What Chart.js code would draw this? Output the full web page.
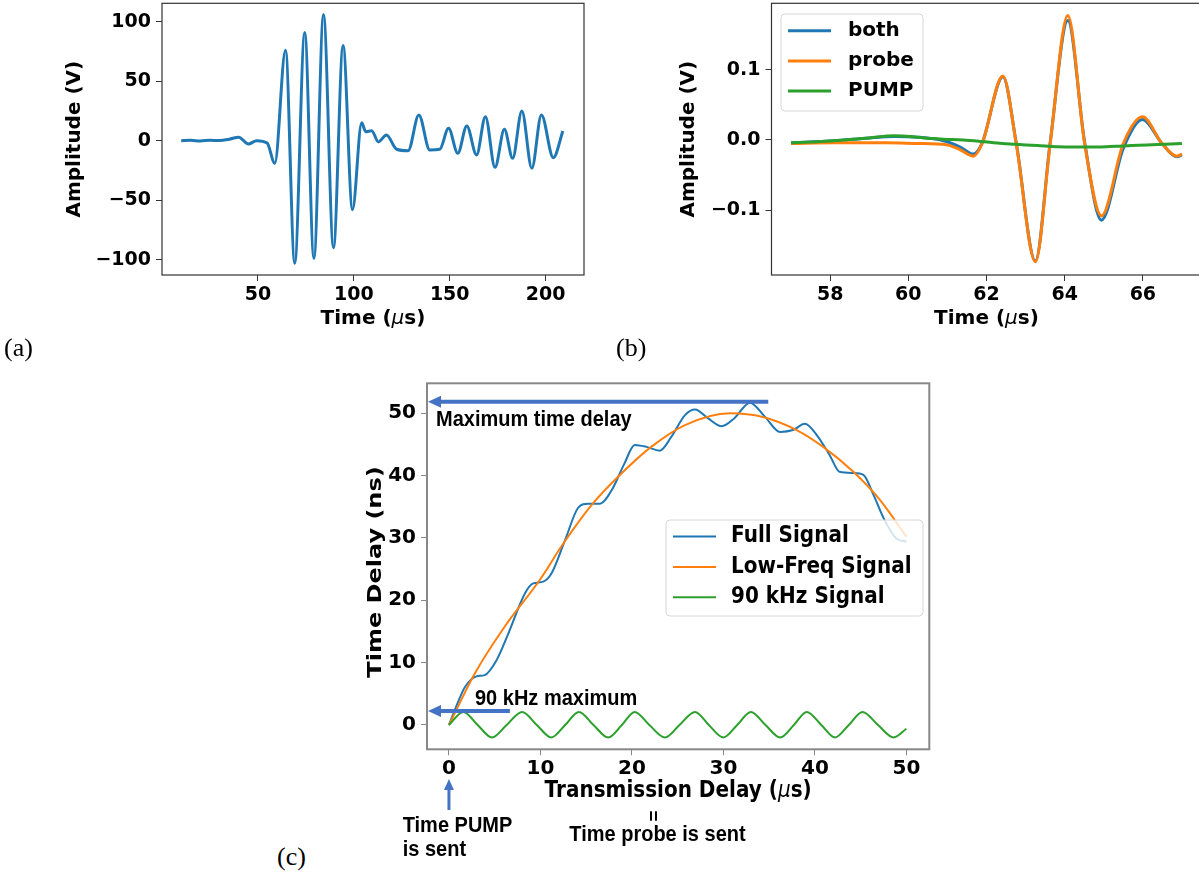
<!DOCTYPE html>
<html>
<head>
<meta charset="utf-8">
<script src="https://cdn.jsdelivr.net/npm/chart.js@4.4.1/dist/chart.umd.min.js"></script>
<style>
  body { margin: 0; background: #fff; width: 1199px; height: 877px; position: relative; overflow: hidden; }
  canvas { position: absolute; }
  .tag { position: absolute; font-family: 'Liberation Serif', serif; font-size: 26px; line-height: 26px; color: #000; }
</style>
</head>
<body>
<canvas id="chartA" width="600" height="335" style="left:0;top:0"></canvas>
<canvas id="chartB" width="605" height="335" style="left:600px;top:0"></canvas>
<canvas id="chartC" width="610" height="502" style="left:330px;top:375px"></canvas>
<div class="tag" style="left:4px;top:335px">(a)</div>
<div class="tag" style="left:616px;top:335px">(b)</div>
<div class="tag" style="left:277px;top:844px">(c)</div>
<script>
// (a) full received signal
const a_time = [10, 15, 20, 25, 30, 35, 40, 45, 49.3, 54.8, 58.8, 64.4, 69.2, 74.4, 79.2, 84.2, 89.4, 94.4, 99.3, 104.1, 106.2, 109.3, 112.8, 117, 122.3, 128.3, 133.9, 139.6, 144.8, 149.4, 154.2, 158.9, 164, 168.6, 173.6, 178.5, 182.8, 187.6, 192.8, 197.8, 204, 209];
const a_amp = [0, 0.3, -0.2, 0.4, 0.1, 1.2, 3, -2.8, 0, -2, -19, 76, -103, 91, -99, 106, -90, 80, -58, 15, 7.6, 8.4, -1, 4.8, -7.2, -8.4, 21.6, -7.8, -7.2, 10.4, -10.6, 12.4, -12, 20.2, -22.4, 9.6, -14.8, 25, -23.2, 21.6, -14.3, 8.2];
const a_xticks = [50, 100, 150, 200];
const a_yticks = [-100, -50, 0, 50, 100];

// (b) zoom on one pulse
const b_both_time = [57, 58.1, 59.0, 59.64, 60.23, 60.9, 61.33, 61.66, 61.89, 62.42, 62.76, 63.25, 63.63, 64.08, 64.51, 64.94, 65.5, 65.99, 66.49, 66.87, 67];
const b_both = [-0.004, -0.001, 0.003, 0.005, 0.004, -0.001, -0.010, -0.020, -0.004, 0.090, -0.004, -0.172, -0.003, 0.170, -0.003, -0.114, -0.012, 0.029, -0.005, -0.024, -0.021];
const b_probe_time = [57, 58.1, 59.4, 60.23, 61.0, 61.33, 61.66, 61.89, 62.42, 62.76, 63.25, 63.63, 64.08, 64.51, 64.94, 65.5, 65.99, 66.49, 66.87, 67];
const b_probe = [-0.005, -0.004, -0.004, -0.005, -0.007, -0.014, -0.023, -0.005, 0.091, -0.005, -0.173, -0.005, 0.177, -0.005, -0.108, -0.005, 0.033, -0.005, -0.023, -0.020];
const b_pump_time = [57, 57.5, 58.1, 58.6, 59.0, 59.64, 60.23, 60.61, 60.9, 61.4, 61.85, 62.4, 62.74, 63.3, 64.02, 64.87, 65.3, 65.72, 66.1, 66.57, 67];
const b_pump = [-0.004, -0.003, -0.001, 0.001, 0.003, 0.006, 0.004, 0.002, 0.001, 0.000, -0.002, -0.005, -0.006, -0.008, -0.010, -0.010, -0.009, -0.008, -0.007, -0.006, -0.005];
const b_xticks = [58, 60, 62, 64, 66];
const b_yticks = [-0.1, 0.0, 0.1];

// (c) time delay vs transmission delay
const c_full_time = [0, 1.0, 1.75, 3.0, 3.9, 5.2, 6.5, 8.3, 9.2, 10.3, 11.2, 12.7, 14.1, 15.2, 16.5, 17.8, 19.2, 20.3, 21.6, 23.05, 24.3, 25.8, 26.9, 28.3, 29.8, 31.2, 32.9, 34.5, 36.2, 37.6, 38.9, 40.2, 41.6, 42.7, 44.2, 45.3, 46.4, 47.6, 48.9, 50];
const c_full = [0, 3.7, 6.1, 7.8, 8.0, 10.4, 14.7, 21.1, 22.7, 23.0, 24.3, 29.7, 34.8, 35.5, 35.5, 37.7, 42.0, 44.9, 44.6, 44.0, 46.2, 49.7, 50.6, 49.2, 47.9, 49.2, 51.7, 49.5, 47.0, 47.3, 48.3, 46.5, 43.3, 40.6, 40.4, 40.1, 36.9, 32.9, 29.9, 29.4];
const c_low_time = [0, 2.84, 6.1, 9.94, 12.5, 15.6, 18.9, 22.1, 25.8, 30.7, 34.3, 38, 40.9, 44.2, 47.1, 50];
const c_low = [0, 8.3, 15.8, 23.3, 29.1, 35.3, 40.4, 44.6, 48.1, 50, 49.4, 47.3, 44.6, 40.6, 36.1, 30.2];
const c_hf_time = [0, 1.57, 3.14, 4.7, 6.3, 8.0, 9.6, 11.2, 12.7, 14.2, 15.8, 17.4, 18.9, 20.3, 21.9, 23.6, 25.2, 26.9, 28.4, 30.0, 31.5, 33.0, 34.6, 36.2, 37.7, 39.1, 40.7, 42.2, 43.7, 45.2, 46.9, 48.6, 50];
const c_hf = [0, 2.1, 0, -2.0, 0, 2.1, 0, -2.0, 0, 2.1, 0, -2.0, 0, 2.1, 0, -2.0, 0, 2.1, 0, -2.0, 0, 2.1, 0, -2.0, 0, 2.1, 0, -2.0, 0, 2.1, 0, -2.0, -0.6];
const c_xticks = [0, 10, 20, 30, 40, 50];
const c_yticks = [0, 10, 20, 30, 40, 50];

const BLUE = '#1f77b4', ORANGE = '#ff7f0e', GREEN = '#2ca02c';
const ARROW = '#4472c4';

function pts(xs, ys) { return xs.map((x, i) => ({ x: x, y: ys[i] })); }
function minus(s) { return String(s).replace('-', '\u2212'); }

function line(label, xs, ys, color, width, order) {
  return {
    label: label, data: pts(xs, ys), borderColor: color, borderWidth: width,
    pointRadius: 0, fill: false, cubicInterpolationMode: 'monotone', order: order
  };
}

// matplotlib style frame on all four sides
const spines = {
  id: 'spines',
  afterDraw(chart, args, o) {
    const { ctx, chartArea: a } = chart;
    ctx.save();
    ctx.strokeStyle = o.color;
    ctx.lineWidth = o.width;
    ctx.strokeRect(a.left, a.top, a.right - a.left, a.bottom - a.top);
    ctx.restore();
  }
};

// legend box inside the axes
const boxLegend = {
  id: 'boxLegend',
  afterDatasetsDraw(chart, args, o) {
    const ctx = chart.ctx;
    ctx.save();
    ctx.beginPath();
    ctx.roundRect(o.x, o.y, o.w, o.h, 4);
    ctx.fillStyle = 'rgba(255,255,255,0.8)';
    ctx.fill();
    ctx.strokeStyle = '#d6d6d6';
    ctx.lineWidth = 1;
    ctx.stroke();
    chart.data.datasets.forEach((ds, i) => {
      const yy = o.y + o.row0 + i * o.gap;
      ctx.strokeStyle = ds.borderColor;
      ctx.lineWidth = ds.borderWidth;
      ctx.beginPath();
      ctx.moveTo(o.x + o.l0, yy);
      ctx.lineTo(o.x + o.l1, yy);
      ctx.stroke();
      ctx.save();
      ctx.translate(o.x + o.tx, yy);
      ctx.scale(1, o.sy);
      ctx.font = o.font;
      ctx.fillStyle = '#000';
      ctx.textBaseline = 'middle';
      ctx.fillText(ds.label, 0, 0);
      ctx.restore();
    });
    ctx.restore();
  }
};

// x title with an italic mu
const muTitle = {
  id: 'muTitle',
  afterDraw(chart, args, o) {
    const { ctx, chartArea: a } = chart;
    ctx.save();
    let w = 0;
    o.parts.forEach(p => { ctx.font = p[1]; w += ctx.measureText(p[0]).width; });
    ctx.translate((a.left + a.right) / 2, o.y);
    ctx.scale(1, o.sy);
    ctx.fillStyle = '#000';
    ctx.textBaseline = 'middle';
    let x = -w / 2;
    o.parts.forEach(p => {
      ctx.font = p[1];
      ctx.fillText(p[0], x, 0);
      x += ctx.measureText(p[0]).width;
    });
    ctx.restore();
  }
};

function arrow(ctx, x0, y0, x1, y1, lw, head, half) {
  const ang = Math.atan2(y1 - y0, x1 - x0);
  const c = Math.cos(ang), s = Math.sin(ang);
  ctx.strokeStyle = ARROW;
  ctx.fillStyle = ARROW;
  ctx.lineWidth = lw;
  ctx.beginPath();
  ctx.moveTo(x0, y0);
  ctx.lineTo(x1 - c * head, y1 - s * head);
  ctx.stroke();
  ctx.beginPath();
  ctx.moveTo(x1, y1);
  ctx.lineTo(x1 - c * head - s * half, y1 - s * head + c * half);
  ctx.lineTo(x1 - c * head + s * half, y1 - s * head - c * half);
  ctx.closePath();
  ctx.fill();
}

function text(ctx, str, x, y, font, sy, align) {
  ctx.save();
  ctx.translate(x, y);
  ctx.scale(1, sy);
  ctx.font = font;
  ctx.fillStyle = '#000';
  ctx.textAlign = align || 'left';
  ctx.textBaseline = 'middle';
  ctx.fillText(str, 0, 0);
  ctx.restore();
}

// annotations of panel (c)
const notes = {
  id: 'notes',
  afterDraw(chart) {
    const { ctx, chartArea: a, scales: { x, y } } = chart;
    const F = 'bold 20px "Liberation Sans", Arial, sans-serif';
    ctx.save();
    const yMax = y.getPixelForValue(Math.max(...c_full)) - 1;
    arrow(ctx, x.getPixelForValue(34.9), yMax, a.left + 1, yMax, 4, 13, 6);
    text(ctx, 'Maximum time delay', 106, 44.7, F, 1.12);
    const yHf = y.getPixelForValue(Math.max(...c_hf)) - 1;
    arrow(ctx, x.getPixelForValue(6.66), yHf, a.left + 1, yHf, 4, 13, 6);
    text(ctx, '90 kHz maximum', 145, 324.3, F, 1.12);
    const x0 = x.getPixelForValue(0);
    arrow(ctx, x0, 435, x0, 404, 3, 11, 5);
    text(ctx, 'Time PUMP', 72.7, 451, F, 1.12);
    text(ctx, 'is sent', 72.7, 475, F, 1.12);
    text(ctx, 'Time probe is sent', 239.3, 460, F, 1.12);
    ctx.save();
    ctx.translate(322.7, 441);
    ctx.rotate(Math.PI / 2);
    ctx.font = 'bold 19px "Liberation Sans", Arial, sans-serif';
    ctx.fillStyle = '#000';
    ctx.textAlign = 'center';
    ctx.textBaseline = 'middle';
    ctx.fillText('=', 0, 0);
    ctx.restore();
    // y title, stretched like the pasted figure
    ctx.save();
    ctx.translate(46, 197);
    ctx.rotate(-Math.PI / 2);
    ctx.scale(1.2, 1);
    ctx.font = 'bold 20px "DejaVu Sans"';
    ctx.fillStyle = '#000';
    ctx.textAlign = 'center';
    ctx.textBaseline = 'middle';
    ctx.fillText('Time Delay (ns)', 0, 0);
    ctx.restore();
    ctx.restore();
  }
};

const TICK = { family: 'DejaVu Sans', weight: 'bold', size: 19 };
const TITLE = { family: 'DejaVu Sans', weight: 'bold', size: 20 };

function xAxis(min, max, ticks, h, pad, size, col) {
  return {
    type: 'linear', min: min, max: max,
    afterBuildTicks: s => { s.ticks = ticks.map(v => ({ value: v })); },
    afterFit: s => { s.height = h; s.paddingLeft = 0; s.paddingRight = 0; },
    grid: { drawOnChartArea: false, color: col, tickLength: 6, tickWidth: 1 },
    border: { display: false },
    ticks: { font: Object.assign({}, TICK, { size: size }), color: '#000', padding: pad, maxRotation: 0, autoSkip: false }
  };
}

function yAxis(min, max, ticks, w, pad, size, col, fmt, title, titlePad) {
  const ax = {
    type: 'linear', min: min, max: max,
    afterBuildTicks: s => { s.ticks = ticks.map(v => ({ value: v })); },
    afterFit: s => { s.width = w; s.paddingTop = 0; s.paddingBottom = 0; },
    grid: { drawOnChartArea: false, color: col, tickLength: 6, tickWidth: 1 },
    border: { display: false },
    ticks: { font: Object.assign({}, TICK, { size: size }), color: '#000', padding: pad, autoSkip: false, callback: fmt }
  };
  if (title) ax.title = { display: true, text: title, font: TITLE, color: '#000', padding: { top: titlePad, bottom: 0 } };
  return ax;
}

const muParts = (start, size) => [
  [start, 'bold ' + size + 'px "DejaVu Sans"'],
  ['\u03bc', 'oblique ' + size + 'px "DejaVu Sans"'],
  ['s)', 'bold ' + size + 'px "DejaVu Sans"']
];

// panel (a)
new Chart(document.getElementById('chartA'), {
  type: 'line',
  data: { datasets: [line('signal', a_time, a_amp, BLUE, 3, 0)] },
  options: {
    responsive: false, animation: false, events: [],
    layout: { padding: { top: 3.3, right: 16, left: 0, bottom: 0 } },
    scales: {
      x: xAxis(0, 220, a_xticks, 60, 3, 19, '#333'),
      y: yAxis(-112.9, 115.5, a_yticks, 162, 5, 19, '#333', v => minus(v), 'Amplitude (V)', 63)
    },
    plugins: {
      legend: { display: false }, tooltip: { enabled: false },
      spines: { color: '#333', width: 1.2 },
      muTitle: { parts: muParts('Time (', 20), y: 319, sy: 1 }
    }
  },
  plugins: [spines, muTitle]
});

// panel (b)
new Chart(document.getElementById('chartB'), {
  type: 'line',
  data: {
    datasets: [
      line('both', b_both_time, b_both, BLUE, 3, 2),
      line('probe', b_probe_time, b_probe, ORANGE, 3, 1),
      line('PUMP', b_pump_time, b_pump, GREEN, 3, 0)
    ]
  },
  options: {
    responsive: false, animation: false, events: [],
    layout: { padding: { top: 3.3, right: 3.5, left: 0, bottom: 0 } },
    scales: {
      x: xAxis(56.5, 67.5, b_xticks, 60, 3, 19, '#333'),
      y: yAxis(-0.192, 0.1944, b_yticks, 171.5, 5, 19, '#333', v => minus(v.toFixed(1)), 'Amplitude (V)', 77)
    },
    plugins: {
      legend: { display: false }, tooltip: { enabled: false },
      spines: { color: '#333', width: 1.2 },
      muTitle: { parts: muParts('Time (', 20), y: 319, sy: 1 },
      boxLegend: { x: 181, y: 14, w: 142, h: 97, row0: 16.7, gap: 30.2, l0: 7, l1: 50, tx: 67, sy: 1, font: 'bold 20px "DejaVu Sans"' }
    }
  },
  plugins: [spines, muTitle, boxLegend]
});

// panel (c)
new Chart(document.getElementById('chartC'), {
  type: 'line',
  data: {
    datasets: [
      line('Full Signal', c_full_time, c_full, BLUE, 2, 2),
      line('Low-Freq Signal', c_low_time, c_low, ORANGE, 2, 1),
      line('90 kHz Signal', c_hf_time, c_hf, GREEN, 2, 0)
    ]
  },
  options: {
    responsive: false, animation: false, events: [],
    layout: { padding: { top: 8.3, right: 10.7, left: 0, bottom: 0 } },
    scales: {
      x: xAxis(-2.4, 52.5, c_xticks, 127.7, 1, 20, '#888'),
      y: yAxis(-3.9, 54.8, c_yticks, 97, 5, 20, '#888', v => minus(v), null, 0)
    },
    plugins: {
      legend: { display: false }, tooltip: { enabled: false },
      spines: { color: '#888', width: 2 },
      muTitle: { parts: muParts('Transmission Delay (', 20), y: 415.7, sy: 1.12 },
      boxLegend: { x: 336, y: 145, w: 257, h: 96, row0: 16.6, gap: 30.3, l0: 7, l1: 50, tx: 65, sy: 1.12, font: 'bold 20px "DejaVu Sans"' }
    }
  },
  plugins: [spines, muTitle, boxLegend, notes]
});
</script>
</body>
</html>
